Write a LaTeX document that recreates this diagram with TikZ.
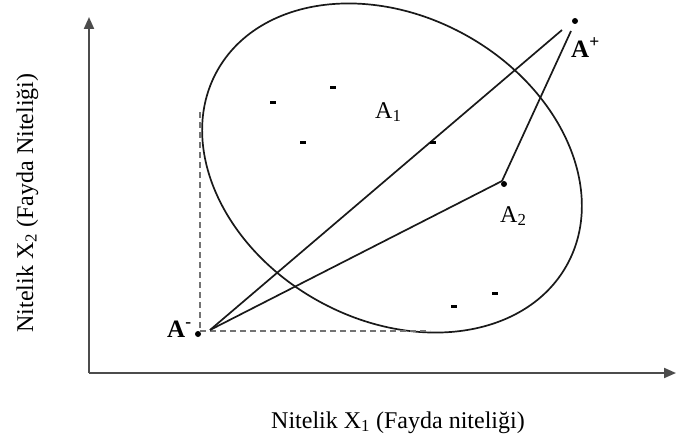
\documentclass[tikz,border=0pt]{standalone}
\usepackage{fontspec}
\setmainfont{Liberation Serif}
\usetikzlibrary{arrows.meta}
\begin{document}
\begin{tikzpicture}[x=1pt,y=1pt,
  axis/.style={draw=black!70, line width=2pt},
  curve/.style={draw=black!90, line width=1.7pt},
  guide/.style={draw=black!55, line width=2pt, dash pattern=on 6pt off 4pt},
  dotmark/.style={circle, fill=black, inner sep=0pt, minimum size=6pt},
  pointmark/.style={fill=black, inner sep=0pt, minimum width=6pt, minimum height=3pt},
  lbl/.style={font=\fontsize{24}{28}\selectfont, inner sep=0pt},
  boldlbl/.style={font=\fontsize{25}{28}\selectfont\bfseries, inner sep=0pt}]
\useasboundingbox (0,0) rectangle (677,-444);
% axes
\coordinate (O) at (89,-373);
\coordinate (Ytop) at (89,-17);
\coordinate (Xend) at (676,-373);
\draw[axis, -{Triangle[length=12pt,width=10pt]}] (O) -- (Ytop);
\draw[axis, -{Triangle[length=12pt,width=10pt]}] (O) -- (Xend);
% ellipse
\coordinate (E) at (392,-168);
\draw[curve, rotate around={-29:(E)}] (E) ellipse [x radius=200, y radius=152];
% guides
\coordinate (Gtop) at (200,-112);
\coordinate (Gcorner) at (200,-331);
\coordinate (Gright) at (430,-331);
\draw[guide] (Gtop) -- (Gcorner);
\draw[guide] (Gcorner) -- (Gright);
% points
\node[dotmark] (Am) at (198,-334) {};
\node[dotmark] (Ap) at (575,-21) {};
\node[dotmark] (A2) at (504,-184) {};
\coordinate (Am1) at (210,-330);
\coordinate (Ap1) at (562,-30);
\coordinate (Ap2) at (571,-31);
\coordinate (A2a) at (502,-181);
\draw[curve] (Am1) -- (Ap1);
\draw[curve] (Am1) -- (A2a);
\draw[curve] (A2a) -- (Ap2);
% scattered alternatives
\node[pointmark] (p1) at (273,-102) {};
\node[pointmark] (p2) at (333,-87) {};
\node[pointmark] (p3) at (303,-142) {};
\node[pointmark] (p4) at (433,-142) {};
\node[pointmark] (p5) at (454,-306) {};
\node[pointmark] (p6) at (495,-293) {};
% labels
\node[boldlbl, anchor=base west] (LAm) at (167,-337) {A\textsuperscript{-}};
\node[boldlbl, anchor=base west] (LAp) at (571,-57) {A\textsuperscript{+}};
\node[lbl, anchor=base west] (LA1) at (375,-118) {A\textsubscript{1}};
\node[lbl, anchor=base west] (LA2) at (500,-222) {A\textsubscript{2}};
\node[lbl, anchor=base] (xlab) at (398,-428) {Nitelik X\textsubscript{1} (Fayda niteliği)};
\node[lbl, rotate=90, anchor=base] (ylab) at (33,-203) {Nitelik X\textsubscript{2} (Fayda Niteliği)};
\end{tikzpicture}
\end{document}
